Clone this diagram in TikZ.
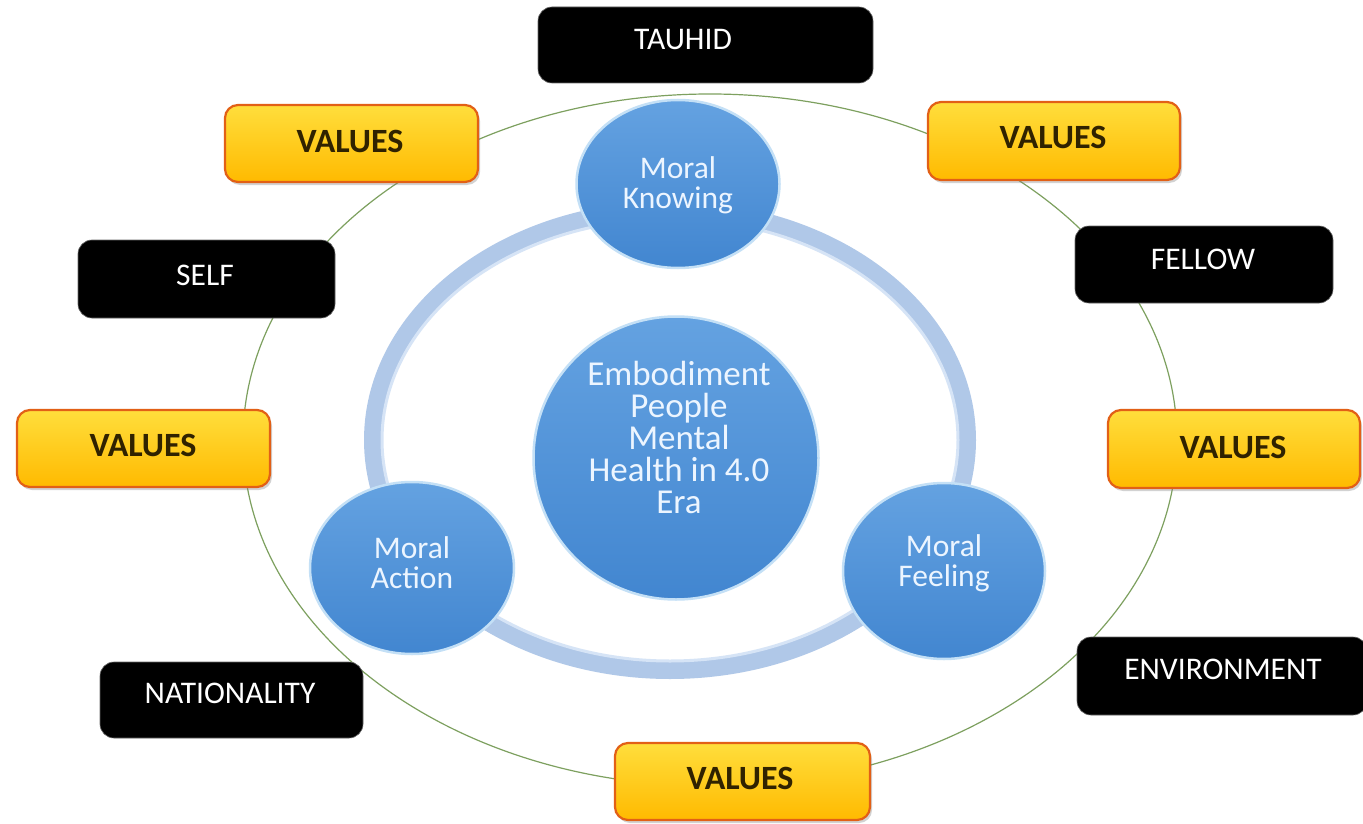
\documentclass[tikz,border=0pt]{standalone}
\usepackage{fontspec}
\setmainfont{Carlito}
\usetikzlibrary{shapes.geometric,shadows}
\definecolor{greenln}{RGB}{125,160,95}
\definecolor{ringcol}{RGB}{176,200,232}
\definecolor{ringhi}{RGB}{214,228,246}
\definecolor{bluetop}{RGB}{100,162,225}
\definecolor{bluebot}{RGB}{66,134,208}
\definecolor{bluerim}{RGB}{196,224,246}
\definecolor{valtop}{RGB}{255,222,60}
\definecolor{valbot}{RGB}{255,186,0}
\definecolor{valedge}{RGB}{226,96,22}
\definecolor{valtext}{RGB}{48,34,0}
\definecolor{circtext}{RGB}{236,245,255}
\begin{document}
\begin{tikzpicture}[x=1pt,y=-1pt,
  greenline/.style={draw=greenln, line width=1.2pt},
  ringline/.style={draw=ringcol, line width=18pt},
  bluecirc/.style={ellipse, draw=bluerim, line width=2.5pt, top color=bluetop, bottom color=bluebot, inner sep=0pt},
  valbox/.style={rectangle, rounded corners=13pt, draw=valedge, line width=2.2pt, top color=valtop, bottom color=valbot, inner sep=0pt,
     drop shadow={opacity=0.35, shadow xshift=2pt, shadow yshift=-3pt}},
  blkbox/.style={rectangle, rounded corners=14pt, fill=black, draw=black!60, line width=0.6pt, inner sep=0pt},
  valtxt/.style={text=valtext, font=\fontsize{34}{36}\selectfont\bfseries, inner sep=0pt},
  blktxt/.style={text=white, font=\fontsize{31.5}{32}\selectfont, inner sep=0pt},
  smalltxt/.style={text=circtext, align=center, font=\fontsize{31.5}{30}\selectfont, inner sep=0pt},
  bigtxt/.style={text=circtext, align=center, font=\fontsize{35}{32}\selectfont, inner sep=0pt}
]
\useasboundingbox (0,0) rectangle (1363,824);
\fill[white] (0,0) rectangle (1363,824);

% outer green ellipse
\draw[greenline] (710,440) ellipse [x radius=467pt, y radius=346pt];

% inner light-blue ring
\draw[ringline] (670,440) ellipse [x radius=297pt, y radius=230pt];
\draw[draw=ringhi, line width=3pt] (670,440) ellipse [x radius=288pt, y radius=221pt];

% blue circles
\node[bluecirc, minimum width=203pt, minimum height=168pt] (know) at (678,184) {};
\node[bluecirc, minimum width=204pt, minimum height=172pt] (action) at (412,568) {};
\node[bluecirc, minimum width=202pt, minimum height=176pt] (feel) at (944,571) {};
\node[bluecirc, minimum width=285pt, minimum height=283pt] (center) at (676,458) {};

\node[smalltxt] (knowT) at (678,185) {Moral\\Knowing};
\node[smalltxt] (actionT) at (412,563) {Moral\\Action};
\node[smalltxt] (feelT) at (944,563) {Moral\\Feeling};
\node[bigtxt] (centerT) at (679,437) {Embodiment\\People\\Mental\\Health in 4.0\\Era};

% VALUES boxes
\node[valbox, minimum width=253pt, minimum height=77pt] (v1) at (351.5,143.5) {};
\node[valbox, minimum width=252pt, minimum height=78pt] (v2) at (1054,141) {};
\node[valbox, minimum width=253pt, minimum height=77pt] (v3) at (143.5,448.5) {};
\node[valbox, minimum width=252pt, minimum height=78pt] (v4) at (1234,449) {};
\node[valbox, minimum width=255pt, minimum height=77pt] (v5) at (742.5,781.5) {};
\node[valtxt] (v1T) at (350,141) {VALUES};
\node[valtxt] (v2T) at (1053,137) {VALUES};
\node[valtxt] (v3T) at (143,445) {VALUES};
\node[valtxt] (v4T) at (1233,447) {VALUES};
\node[valtxt] (v5T) at (740,778) {VALUES};

% black boxes
\node[blkbox, minimum width=335pt, minimum height=76pt] (tauhid) at (705.5,45) {};
\node[blkbox, minimum width=257pt, minimum height=78pt] (self) at (206.5,279) {};
\node[blkbox, minimum width=258pt, minimum height=77pt] (fellow) at (1204,264.5) {};
\node[blkbox, minimum width=263pt, minimum height=76pt] (nation) at (231.5,700) {};
\node[blkbox, minimum width=290pt, minimum height=78pt] (env) at (1222,676) {};
\node[blktxt] (tauhidT) at (683,40) {TAUHID};
\node[blktxt] (selfT) at (205,275) {SELF};
\node[blktxt] (fellowT) at (1203,259) {FELLOW};
\node[blktxt] (nationT) at (230,693) {NATIONALITY};
\node[blktxt] (envT) at (1223,669) {ENVIRONMENT};
\end{tikzpicture}
\end{document}
